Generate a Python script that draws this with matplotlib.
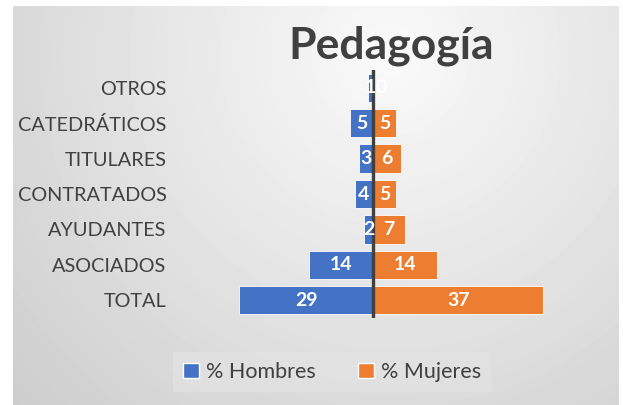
import numpy as np
import matplotlib
matplotlib.use('Agg')
import matplotlib.pyplot as plt
from matplotlib.patches import Patch

# datos (de abajo hacia arriba)
categorias = ['TOTAL', 'ASOCIADOS', 'AYUDANTES', 'CONTRATADOS', 'TITULARES', 'CATEDRÁTICOS', 'OTROS']
hombres = [29, 14, 2, 4, 3, 5, 1]
mujeres = [37, 14, 7, 5, 6, 5, 0]

azul = '#4472C4'
naranja = '#ED7D31'
gris = '#404040'

plt.rcParams['font.family'] = ['Lato', 'DejaVu Sans']

W, H = 623, 405
fig = plt.figure(figsize=(W / 100, H / 100), dpi=100)
fig.patch.set_facecolor('white')

# fondo con degradado radial
bg = fig.add_axes([13 / W, 0, (619 - 13) / W, (405 - 6) / H])
yy, xx = np.mgrid[0:399, 0:606]
d = np.sqrt((xx - 377) ** 2 + (yy - 50) ** 2)
val = np.clip(250 - 0.088 * d, 0, 255) / 255
bg.imshow(val, cmap='gray', vmin=0, vmax=1, aspect='auto', interpolation='bilinear')
bg.axis('off')

ax = fig.add_axes([175 / W, (405 - 318) / H, 425 / W, 248 / H])
ax.set_facecolor('none')
y = np.arange(len(categorias))
neg = [-v for v in hombres]
ax.barh(y, neg, height=0.8, color=azul, edgecolor='white', linewidth=0.6, label='% Hombres')
ax.barh(y, mujeres, height=0.8, color=naranja, edgecolor='white', linewidth=0.6, label='% Mujeres')
ax.axvline(0, color=gris, lw=2.4, zorder=3)

for i in range(len(categorias)):
    ax.annotate(str(hombres[i]), (neg[i] / 2, i), ha='center', va='center',
                color='white', fontsize=14, fontweight='bold', zorder=4)
    off = 0 if mujeres[i] else 6
    ax.annotate(str(mujeres[i]), (mujeres[i] / 2, i), xytext=(off, 0), textcoords='offset points',
                ha='center', va='center', color='white', fontsize=14, fontweight='bold', zorder=4)

ax.set_xlim(-43, 49.3)
ax.set_ylim(-0.5, len(categorias) - 0.5)
ax.set_yticks(y)
ax.set_yticklabels(categorias, fontsize=14.3, color=gris)
ax.tick_params(axis='y', length=0, pad=6)
ax.set_xticks([])
for s in ax.spines.values():
    s.set_visible(False)

fig.text(391 / W, 1 - 46 / H, 'Pedagogía', ha='center', va='center',
         fontsize=32, fontweight='bold', color=gris)

handles = [Patch(facecolor=azul, edgecolor='white'), Patch(facecolor=naranja, edgecolor='white')]
leg = fig.legend(handles, ['% Hombres', '% Mujeres'], loc='center', bbox_to_anchor=(332 / W, 1 - 372 / H),
                 ncol=2, frameon=True, fontsize=15.5, handlelength=0.75, handleheight=0.75,
                 handletextpad=0.3, columnspacing=2.0, fancybox=False, borderpad=0.45,
                 borderaxespad=0)
leg.get_frame().set_facecolor('#e2e2e2')
leg.get_frame().set_edgecolor('none')
leg.get_frame().set_alpha(0.8)
for t in leg.get_texts():
    t.set_color(gris)

fig.savefig('out.png', dpi=100)
